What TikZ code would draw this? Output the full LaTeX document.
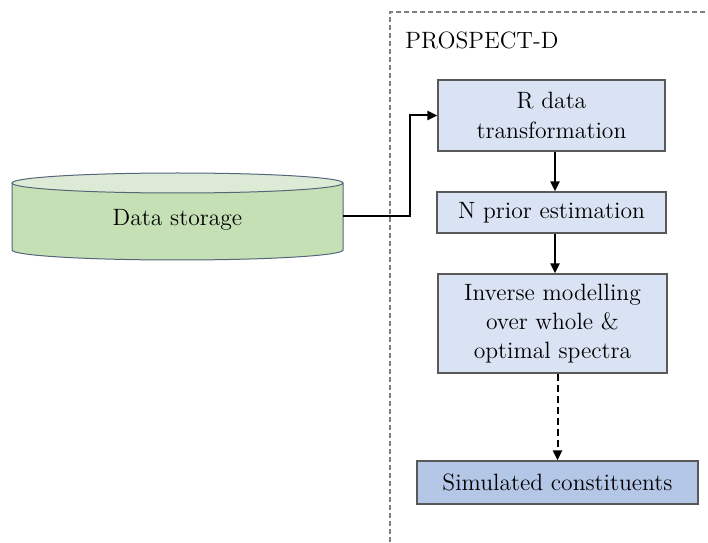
\documentclass[tikz,border=0pt]{standalone}
\usetikzlibrary{arrows.meta,calc}
\definecolor{cylside}{HTML}{C5E0B4}
\definecolor{cyltop}{HTML}{DDEBD6}
\definecolor{cylline}{HTML}{55657A}
\definecolor{boxfill}{HTML}{DAE3F3}
\definecolor{boxline}{HTML}{595959}
\definecolor{simfill}{HTML}{B4C7E7}
\definecolor{framecol}{HTML}{7F7F7F}
\begin{document}
\begin{tikzpicture}[x=0.5pt,y=0.5pt,
  txt/.style={font=\fontsize{11.8}{14.6}\selectfont},
  box/.style={txt, draw=boxline, fill=boxfill, line width=0.6pt, align=center, inner sep=0pt},
  conn/.style={line width=1pt, -{Triangle[length=5pt,width=4.5pt]}},
  framestyle/.style={draw=framecol, line width=0.7pt, dash pattern=on 2.5pt off 1.5pt},
  cylstyle/.style={draw=cylline, line width=0.5pt}]
\useasboundingbox (0,0) rectangle (708,542);
% dashed frame
\draw[framestyle] (390,0) -- (390,530) -- (708,530);
\node[txt, anchor=west, inner sep=0pt] (title) at (405,502) {PROSPECT-D};
% boxes
\node[box, minimum width=113.5pt, minimum height=35.5pt] (r) at (551.5,426.5) {R data\\transformation};
\node[box, minimum width=114.5pt, minimum height=20.5pt] (n) at (551.5,329.5) {N prior estimation};
\node[box, minimum width=114.5pt, minimum height=49.5pt] (i) at (552.5,218.5) {Inverse modelling\\over whole \&\\optimal spectra};
\node[box, fill=simfill, minimum width=140.5pt, minimum height=21.5pt] (s) at (557.5,59.5) {Simulated constituents};
% cylinder
\fill[cylside] (12,359) -- (12,292) arc[start angle=180,end angle=360,x radius=82.75pt,y radius=5pt] -- (343,359) -- cycle;
\draw[cylstyle] (12,359) -- (12,292) arc[start angle=180,end angle=360,x radius=82.75pt,y radius=5pt] -- (343,359);
\filldraw[cylstyle, fill=cyltop] (177.5,359) ellipse [x radius=82.75pt, y radius=5pt];
\node[txt, minimum width=165.5pt, minimum height=33.5pt, inner sep=0pt] (ds) at (177.5,322) {Data storage};
% connectors
\coordinate (bend) at (410,0);
\draw[conn] ([yshift=2pt]ds.east) -- ([yshift=2pt]ds.east -| bend) |- (r.west);
\draw[conn] ([xshift=1.75pt]r.south) -- ([xshift=1.75pt]n.north);
\draw[conn] ([xshift=1.75pt]n.south) -- ([xshift=1.75pt]n.south |- i.north);
\draw[conn, dash pattern=on 3.5pt off 2pt] (i.south -| s.north) -- (s.north);
\end{tikzpicture}
\end{document}
